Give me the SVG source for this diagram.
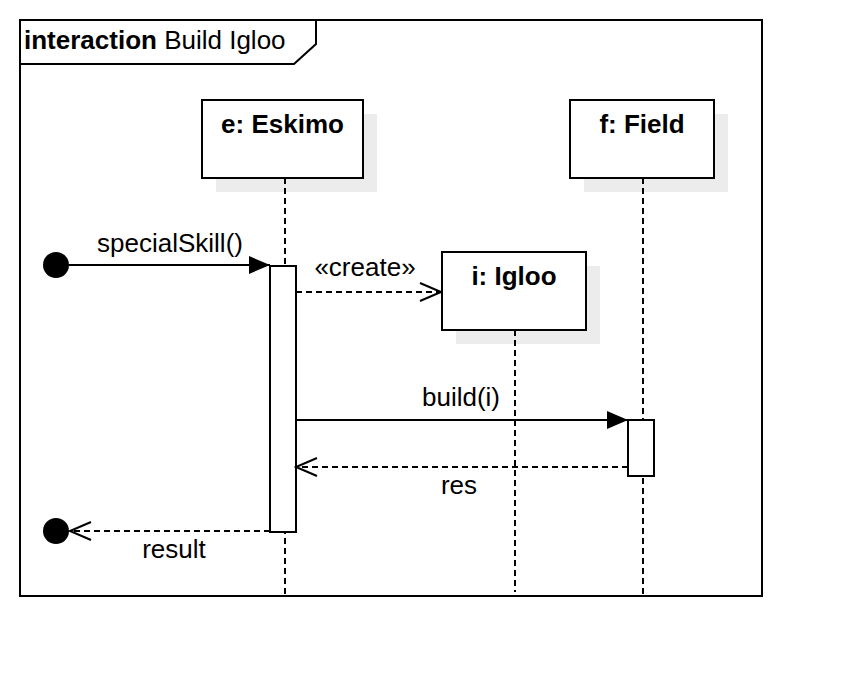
<svg xmlns="http://www.w3.org/2000/svg" width="842" height="676" viewBox="0 0 842 676">
<style>
.t{font-family:"Liberation Sans",Arial,sans-serif;font-size:26px;fill:#000}
.b{font-weight:bold}
.box{fill:#fff;stroke:#000;stroke-width:2}
.sh{fill:#ececec}
.ll{stroke:#000;stroke-width:2;stroke-dasharray:6,4;fill:none}
.msg{stroke:#000;stroke-width:2;fill:none}
.dmsg{stroke:#000;stroke-width:2;fill:none;stroke-dasharray:6,4}
</style>
<defs>
<marker id="fill" markerWidth="22" markerHeight="18" refX="21" refY="9" orient="auto" markerUnits="userSpaceOnUse"><path d="M0,0 L21,9 L0,18 Z" fill="#000"/></marker>
<marker id="open" markerWidth="24" markerHeight="20" refX="22" refY="10" orient="auto" markerUnits="userSpaceOnUse"><path d="M1,1 L22,10 L1,19" fill="none" stroke="#000" stroke-width="2"/></marker>
</defs>
<rect width="842" height="676" fill="#fff"/>
<g id="frame">
<rect x="20" y="20" width="742" height="576" fill="none" stroke="#000" stroke-width="2"/>
<path d="M20,20 H316 V44 L294,64 H20" fill="none" stroke="#000" stroke-width="2"/>
<text class="t" x="24" y="49"><tspan class="b">interaction</tspan> Build Igloo</text>
</g>
<g id="eskimo">
<rect class="sh" x="216" y="114" width="161" height="78"/>
<line class="ll" x1="285" y1="178" x2="285" y2="596"/>
<rect class="box" x="202" y="100" width="161" height="78"/>
<text class="t b" x="282.5" y="133" text-anchor="middle">e: Eskimo</text>
</g>
<g id="field">
<rect class="sh" x="584" y="114" width="144" height="78"/>
<line class="ll" x1="643" y1="178" x2="643" y2="596"/>
<rect class="box" x="570" y="100" width="144" height="78"/>
<text class="t b" x="642" y="133" text-anchor="middle">f: Field</text>
</g>
<g id="igloo">
<rect class="sh" x="456" y="266" width="144" height="78"/>
<line class="ll" x1="515" y1="330" x2="515" y2="592"/>
<rect class="box" x="442" y="252" width="144" height="78"/>
<text class="t b" x="514" y="285" text-anchor="middle">i: Igloo</text>
</g>
<g id="act-e"><rect class="box" x="270" y="266" width="26" height="266"/></g>
<g id="act-f"><rect class="box" x="628" y="420" width="26" height="56"/></g>
<g id="start"><circle cx="56" cy="265" r="13" fill="#000"/></g>
<g id="end"><circle cx="56" cy="531" r="13" fill="#000"/></g>
<g id="connectors">
<line class="msg" x1="69" y1="265" x2="270" y2="265" marker-end="url(#fill)"/>
<text class="t" x="170" y="252" text-anchor="middle">specialSkill()</text>
<line class="dmsg" x1="296" y1="292" x2="441" y2="292" marker-end="url(#open)"/>
<text class="t" x="365" y="276" text-anchor="middle">«create»</text>
<line class="msg" x1="296" y1="420" x2="628" y2="420" marker-end="url(#fill)"/>
<text class="t" x="461" y="406" text-anchor="middle">build(i)</text>
<line class="dmsg" x1="628" y1="467" x2="296" y2="467" marker-end="url(#open)"/>
<text class="t" x="459" y="494" text-anchor="middle">res</text>
<line class="dmsg" x1="270" y1="531" x2="70" y2="531" marker-end="url(#open)"/>
<text class="t" x="174" y="558" text-anchor="middle">result</text>
</g>
</svg>
